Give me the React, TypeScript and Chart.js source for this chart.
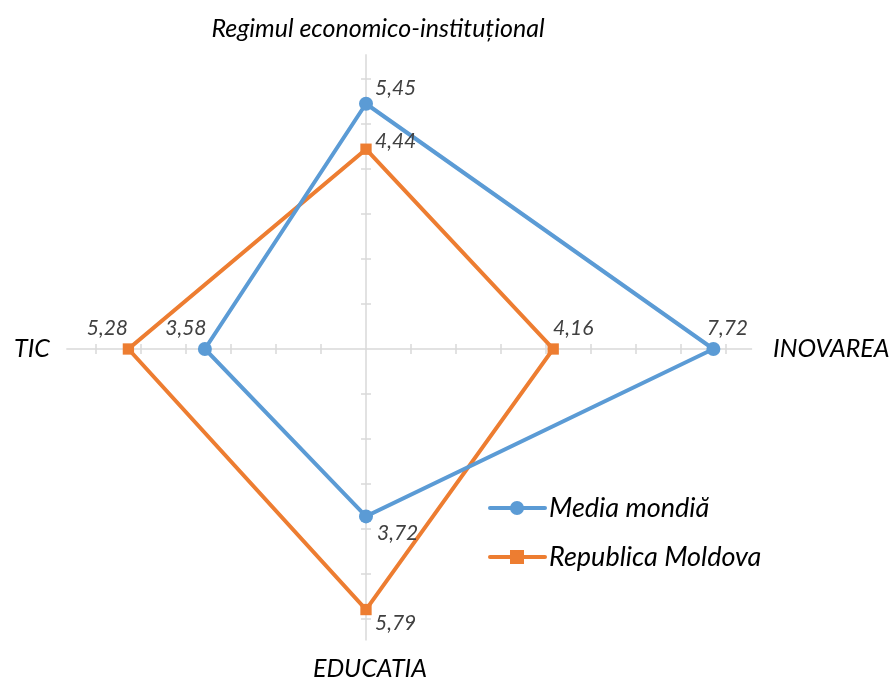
import React, { useEffect, useRef } from "react";
import { Chart, registerables } from "chart.js";

Chart.register(...registerables);

const categories = ["Regimul economico-instituțional", "INOVAREA", "EDUCATIA", "TIC"];
const mediaMondiala = [5.45, 7.72, 3.72, 3.58];
const republicaMoldova = [4.44, 4.16, 5.79, 5.28];
const seriesNames = ["Media mondiă", "Republica Moldova"];
const tickValues = [1, 2, 3, 4, 5, 6, 7, 8];

const BLUE = "#5B9BD5";
const ORANGE = "#ED7D31";
const FONT = "Lato";

// styling: axis line extent per spoke (in scale units)
const axisExtent = [6.55, 8.58, 6.48, 6.66];
// label offsets per dataset per point [dx, dy], alignment
const labelOffsets = [
  [[9, -16, "left"], [14, -21, "center"], [11, 17, "left"], [-19, -21, "center"]],
  [[9, -8, "left"], [20, -21, "center"], [9, 14, "left"], [-21, -21, "center"]],
];

const overlay = {
  id: "overlay",
  beforeDatasetsDraw(chart: any) {
    const ctx = chart.ctx;
    const scale = chart.scales.r;
    ctx.save();
    ctx.strokeStyle = "#D9D9D9";
    ctx.lineWidth = 1.5;
    for (let i = 0; i < categories.length; i++) {
      const c = scale.getPointPositionForValue(i, 0);
      const e = scale.getPointPositionForValue(i, axisExtent[i]);
      ctx.beginPath();
      ctx.moveTo(c.x, c.y);
      ctx.lineTo(e.x, e.y);
      ctx.stroke();
      const angle = scale.getIndexAngle(i) - Math.PI / 2;
      const px = -Math.sin(angle);
      const py = Math.cos(angle);
      for (const t of tickValues) {
        if (t > axisExtent[i]) continue;
        const p = scale.getPointPositionForValue(i, t);
        ctx.beginPath();
        ctx.moveTo(p.x - px * 5, p.y - py * 5);
        ctx.lineTo(p.x + px * 5, p.y + py * 5);
        ctx.stroke();
      }
    }
    ctx.restore();
  },
  afterDatasetsDraw(chart: any) {
    const ctx = chart.ctx;
    const scale = chart.scales.r;
    ctx.save();
    // data labels
    ctx.font = `italic 21px ${FONT}`;
    ctx.fillStyle = "#404040";
    ctx.textBaseline = "middle";
    chart.data.datasets.forEach((ds: any, di: number) => {
      const meta = chart.getDatasetMeta(di);
      meta.data.forEach((pt: any, i: number) => {
        const [dx, dy, align] = labelOffsets[di][i] as any;
        ctx.textAlign = align;
        ctx.fillText(ds.data[i].toFixed(2).replace(".", ","), pt.x + dx, pt.y + dy);
      });
    });
    // category labels
    ctx.font = `italic 25px ${FONT}`;
    ctx.fillStyle = "#000000";
    const top = scale.getPointPositionForValue(0, 0);
    ctx.textAlign = "center";
    ctx.fillText(categories[0], top.x + 12, top.y - 320);
    ctx.textAlign = "left";
    ctx.fillText(categories[1], top.x + 407, top.y);
    ctx.textAlign = "center";
    ctx.fillText(categories[2], top.x + 4, top.y + 320);
    ctx.textAlign = "left";
    ctx.fillText(categories[3], top.x - 352, top.y);
    // legend
    const lx = 490;
    const ly = [508 + 11, 557 + 11];
    const colors = [BLUE, ORANGE];
    for (let k = 0; k < 2; k++) {
      ctx.strokeStyle = colors[k];
      ctx.fillStyle = colors[k];
      ctx.lineWidth = 4;
      ctx.lineCap = "round";
      ctx.beginPath();
      ctx.moveTo(lx, ly[k]);
      ctx.lineTo(lx + 55, ly[k]);
      ctx.stroke();
      if (k === 0) {
        ctx.beginPath();
        ctx.arc(lx + 27, ly[k], 7, 0, Math.PI * 2);
        ctx.fill();
      } else {
        ctx.fillRect(lx + 20, ly[k] - 7, 14, 14);
      }
      ctx.fillStyle = "#000000";
      ctx.font = `italic 27px ${FONT}`;
      ctx.textAlign = "left";
      ctx.fillText(seriesNames[k], lx + 59, ly[k]);
    }
    ctx.restore();
  },
};

export default function App() {
  const ref = useRef<HTMLCanvasElement>(null);
  useEffect(() => {
    if (!ref.current) return;
    const chart = new Chart(ref.current, {
      type: "radar",
      data: {
        labels: categories,
        datasets: [
          {
            label: seriesNames[0],
            data: mediaMondiala,
            borderColor: BLUE,
            backgroundColor: BLUE,
            borderWidth: 4,
            pointStyle: "circle",
            pointRadius: 7,
            pointBackgroundColor: BLUE,
            pointBorderWidth: 0,
            fill: false,
          },
          {
            label: seriesNames[1],
            data: republicaMoldova,
            borderColor: ORANGE,
            backgroundColor: ORANGE,
            borderWidth: 4,
            pointStyle: "rect",
            pointRadius: 8,
            pointBackgroundColor: ORANGE,
            pointBorderWidth: 0,
            fill: false,
          },
        ],
      },
      options: {
        responsive: false,
        animation: false,
        layout: { padding: { left: 0, right: 157, top: 0, bottom: 0 } },
        plugins: { legend: { display: false }, tooltip: { enabled: false } },
        scales: {
          r: {
            min: 0,
            max: 8,
            ticks: { display: false, stepSize: 1 },
            grid: { display: false },
            angleLines: { display: false },
            pointLabels: { display: false },
          },
        },
      },
      plugins: [overlay],
    });
    return () => chart.destroy();
  }, []);
  return (
    <div style={{ position: "fixed", left: 0, top: 0, width: 889, height: 679, overflow: "hidden", background: "#fff" }}>
      <canvas ref={ref} width={889} height={720} style={{ position: "absolute", left: 0, top: -11 }} />
    </div>
  );
}
